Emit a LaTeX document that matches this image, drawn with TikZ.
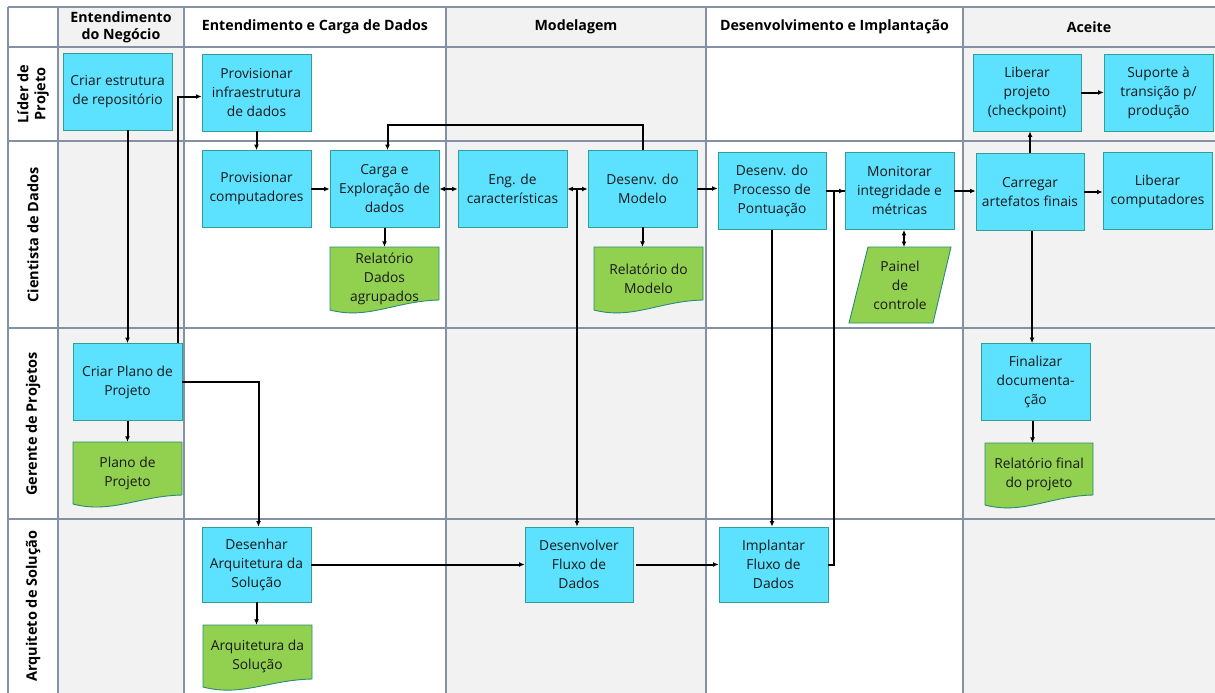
\documentclass[tikz,border=0pt]{standalone}
\usepackage{fontspec}
\setmainfont{Open Sans}
\usetikzlibrary{arrows.meta}
\definecolor{gridc}{RGB}{132,145,165}
\definecolor{lanebg}{RGB}{242,242,242}
\definecolor{taskfill}{RGB}{92,225,255}
\definecolor{taskline}{RGB}{46,160,150}
\definecolor{docfill}{RGB}{146,208,80}
\definecolor{docline}{RGB}{40,140,120}
\definecolor{txt}{RGB}{25,25,25}

% document symbol with a wavy lower edge; the node carries name and text
\newcommand\docsym[7]{% name, x0, y0, x1, yright, yleft, text
  \pgfmathsetmacro\dw{#4-#2}
  \draw[docline, fill=docfill, line width=0.9pt]
    (#2,#3) -- (#4,#3) -- (#4,#5)
    .. controls (#4-0.4*\dw,#5+1) and (#2+0.35*\dw,#6+10) .. (#2,#6) -- cycle;
  \node[doctext, minimum width={(#4-#2)*1pt}, minimum height={(#6-#3)*1pt}]
    (#1) at ({(#2+#4)/2},{(#3+#6)/2}) {#7};
}

\tikzset{
  x=1pt, y=-1pt,
  grid/.style={gridc, line width=1.2pt},
  task/.style={draw=taskline, fill=taskfill, line width=0.9pt,
    minimum width=109pt, minimum height=77pt, inner sep=0pt,
    align=center, text=txt, font=\fontsize{13.8}{19}\selectfont},
  doctext/.style={inner sep=0pt, align=center, text=txt,
    font=\fontsize{13.8}{19}\selectfont},
  head/.style={align=center, text=black, font=\bfseries\fontsize{14.2}{17}\selectfont},
  lane/.style={align=center, rotate=90, text=black, font=\bfseries\fontsize{14.5}{17}\selectfont},
  flow/.style={line width=2pt, -{Latex[length=5.5pt,width=5pt]}},
  flow2/.style={line width=2pt, {Latex[length=5.5pt,width=5pt]}-{Latex[length=5.5pt,width=5pt]}},
  link/.style={line width=2pt}
}

\begin{document}
\begin{tikzpicture}
\useasboundingbox (0,0) rectangle (1215,693);
\fill[white] (0,0) rectangle (1215,693);

% shaded phase columns
\fill[lanebg] (58,7) rectangle (184,693);
\fill[lanebg] (446,7) rectangle (706,693);
\fill[lanebg] (963,7) rectangle (1215,693);

% grid
\foreach \x in {8,58,184,446,706,963}
  \draw[grid] (\x,7) -- (\x,693);
\foreach \y in {7,47,141,328,519}
  \draw[grid] (8,\y) -- (1215,\y);

% phase headers
\node[head] (h1) at (121,27) {Entendimento\\do Negócio};
\node[head] (h2) at (315,27) {Entendimento e Carga de Dados};
\node[head] (h3) at (576,27) {Modelagem};
\node[head] (h4) at (834.5,27) {Desenvolvimento e Implantação};
\node[head] (h5) at (1089,27) {Aceite};

% role lanes
\node[lane] (l1) at (33,94) {Líder de\\Projeto};
\node[lane] (l2) at (33,235) {Cientista de Dados};
\node[lane] (l3) at (33,424) {Gerente de Projetos};
\node[lane] (l4) at (33,606) {Arquiteto de Solução};

% tasks
\node[task] (repo) at (117.5,91.5) {Criar estrutura\\de repositório};
\node[task] (infra) at (256.5,92.5) {Provisionar\\infraestrutura\\de dados};
\node[task, minimum width=108pt] (libproj) at (1027,92.5) {Liberar\\projeto\\(checkpoint)};
\node[task] (suporte) at (1158.5,92.5) {Suporte à\\transição p/\\produção};
\node[task] (provcomp) at (256.5,189) {Provisionar\\computadores};
\node[task] (carga) at (384.5,189) {Carga e\\Exploração de\\dados};
\node[task] (eng) at (512.5,189) {Eng. de\\características};
\node[task] (desmod) at (642.5,188.5) {Desenv. do\\Modelo};
\node[task, minimum width=108pt] (despont) at (772,191) {Desenv. do\\Processo de\\Pontuação};
\node[task] (monitor) at (899.5,191) {Monitorar\\integridade e\\métricas};
\node[task, minimum width=108pt] (carregar) at (1030,192) {Carregar\\artefatos finais};
\node[task] (libcomp) at (1157.5,191) {Liberar\\computadores};
\node[task] (plano) at (127.5,382) {Criar Plano de\\Projeto};
\node[task] (finalizar) at (1035.5,382) {Finalizar\\documenta-\\ção};
\node[task, minimum height=75pt] (desenhar) at (256.5,564.5) {Desenhar\\Arquitetura da\\Solução};
\node[task, minimum width=108pt, minimum height=75pt] (desfluxo) at (579,564.5) {Desenvolver\\Fluxo de\\Dados};
\node[task, minimum height=75pt] (implantar) at (773.5,564.5) {Implantar\\Fluxo de\\Dados};

% documents
\docsym{reldados}{330}{247}{439}{300}{310}{Relatório\\Dados\\agrupados}
\docsym{relmod}{594}{247}{703}{300}{310}{Relatório do\\Modelo}
\docsym{planodoc}{73}{442}{182}{495}{504}{Plano de\\Projeto}
\docsym{relfinal}{985}{443}{1093}{495}{505}{Relatório final\\do projeto}
\docsym{arqdoc}{203}{625}{312}{679}{687}{Arquitetura da\\Solução}

% dashboard (manual input)
\draw[docline, fill=docfill, line width=0.9pt]
  (868,247) -- (951,247) -- (933,323) -- (849,323) -- cycle;
\node[doctext] (painel) at (900,285) {Painel\\de\\controle};
\coordinate (painelTop) at (904,247);

% connectors
\draw[flow] (plano.north |- repo.south) -- (plano.north);
\draw[flow] ([xshift=-4pt]plano.north east) |- ([yshift=-4pt]infra.west);
\draw[flow] (infra.south) -- (provcomp.north);
\draw[flow] (provcomp.east) -- (carga.west);
\draw[flow] (desmod.north) -- ++(0,-25) -| ([xshift=3pt]carga.north);
\draw[flow2] (carga.east) -- (eng.west);
\draw[flow2] (eng.east) -- (desmod.west |- eng.east);
\draw[flow] ([xshift=-2pt]desfluxo.north |- eng.east) -- ([xshift=-2pt]desfluxo.north);
\draw[flow] (desmod.south) -- (desmod.south |- relmod.north);
\draw[flow] (desmod.east) -- (desmod.east -| despont.west);
\draw[flow] (despont.east) -- (monitor.west);
\draw[link] (implantar.east) -- ++(6,0) |- (monitor.west);
\draw[flow] (despont.south) -- (despont.south |- implantar.north);
\draw[flow2] ([xshift=4.5pt]monitor.south) -- (painelTop);
\draw[flow] (monitor.east) -- (monitor.east -| carregar.west);
\draw[flow] (carregar.east) -- (carregar.east -| libcomp.west);
\draw[flow] (carregar.north) -- (carregar.north |- libproj.south);
\draw[flow] ([xshift=2pt]carregar.south) -- ([xshift=2pt]carregar.south |- finalizar.north);
\draw[flow] ([xshift=-3pt]finalizar.south) -- ([xshift=-3pt]finalizar.south |- relfinal.north);
\draw[flow] (libproj.east) -- (suporte.west);
\draw[flow] (plano.east) -| ([xshift=2pt]desenhar.north);
\draw[flow] (plano.south) -- (planodoc.north -| plano.south);
\draw[flow] (carga.south) -- (carga.south |- reldados.north);
\draw[flow] (desenhar.east) -- (desfluxo.west);
\draw[flow, shorten <=3pt] (desfluxo.east) -- (implantar.west);
\draw[flow] (desenhar.south) -- (desenhar.south |- arqdoc.north);
\end{tikzpicture}
\end{document}
